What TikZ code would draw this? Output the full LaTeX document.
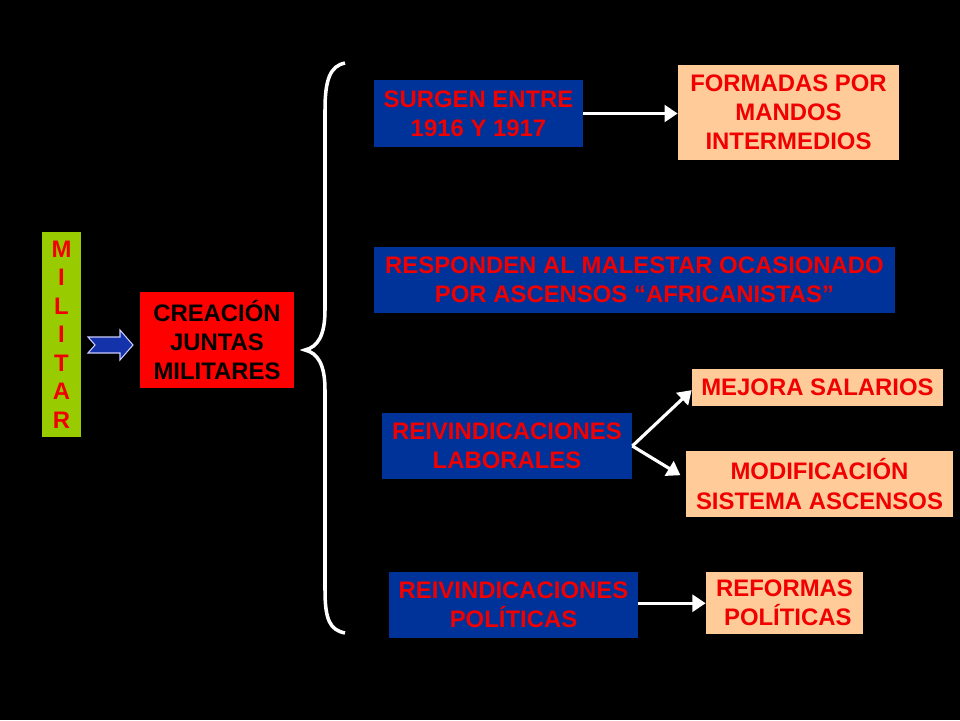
\documentclass[tikz,border=0pt]{standalone}
\usepackage{fontspec}
\setmainfont{Liberation Sans}
\usetikzlibrary{arrows.meta}
\definecolor{bbox}{RGB}{0,51,153}
\definecolor{peach}{RGB}{255,204,153}
\definecolor{lgreen}{RGB}{153,204,0}
\definecolor{txtred}{RGB}{240,0,0}
\definecolor{arrblue}{RGB}{20,50,170}
\begin{document}
\begin{tikzpicture}[x=0.02cm,y=-0.02cm,
  every node/.style={inner sep=0pt,align=center,font=\fontsize{13.6}{16.6}\selectfont\bfseries},
  bluebox/.style={fill=bbox,text=txtred},
  peachbox/.style={fill=peach,text=txtred},
  conn/.style={draw=white,line width=1.8pt,-{Triangle[length=7.5pt,width=9.5pt]}}]
\fill[black] (0,0) rectangle (960,720);
\useasboundingbox (0,0) rectangle (960,720);
% left column
\node[fill=lgreen,text=txtred,minimum width=0.78cm,minimum height=4.10cm,
  font=\fontsize{13.6}{16.2}\selectfont\bfseries] (mil) at (61.5,334.5) {M\\I\\L\\I\\T\\A\\R};
\node[fill=red,text=black,minimum width=3.08cm,minimum height=1.92cm] (cre) at (217,340) {CREACIÓN\\JUNTAS\\MILITARES};
\draw[fill=arrblue,draw=white!80!blue,line width=0.6pt]
  (88,337) -- (120,337) -- (120,330) -- (133,345) -- (120,360) -- (120,353) -- (88,353) -- (95,345) -- cycle;
% brace
\draw[white,line width=2pt]
  (345,63) .. controls (330,66) and (325,80) .. (325,110)
  -- (325,310) .. controls (325,335) and (318,347) .. (305,350)
  .. controls (318,353) and (325,365) .. (325,390)
  -- (325,590) .. controls (325,620) and (330,630) .. (345,633);
% right part
\node[bluebox,minimum width=4.18cm,minimum height=1.34cm] (s1) at (478.5,113.5) {SURGEN ENTRE\\1916 Y 1917};
\node[peachbox,minimum width=4.42cm,minimum height=1.90cm] (f1) at (788.5,112.5) {FORMADAS POR\\MANDOS\\INTERMEDIOS};
\node[bluebox,minimum width=10.42cm,minimum height=1.32cm] (r1) at (634.5,280) {RESPONDEN AL MALESTAR OCASIONADO\\POR ASCENSOS “AFRICANISTAS”};
\node[bluebox,minimum width=5.00cm,minimum height=1.32cm] (lab) at (507,446) {REIVINDICACIONES\\LABORALES};
\node[peachbox,minimum width=5.02cm,minimum height=0.74cm] (mej) at (817.5,387.5) {MEJORA SALARIOS};
\node[peachbox,minimum width=5.34cm,minimum height=1.32cm] (mod) at (819.5,484) {MODIFICACIÓN\\SISTEMA ASCENSOS};
\node[bluebox,minimum width=4.98cm,minimum height=1.32cm] (pol) at (513.5,605) {REIVINDICACIONES\\POLÍTICAS};
\node[peachbox,minimum width=3.14cm,minimum height=1.24cm] (ref) at (784.5,603) {REFORMAS\\\ POLÍTICAS};
% connectors
\draw[conn] (s1.east) -- (s1.east -| f1.west);
\draw[conn] (lab.east) -- ([yshift=-1.5pt]mej.west);
\draw[conn] (lab.east) -- ([xshift=-3pt,yshift=5pt]mod.west);
\draw[conn] ([yshift=1pt]pol.east) -- ([yshift=1pt]pol.east -| ref.west);
\end{tikzpicture}
\end{document}
